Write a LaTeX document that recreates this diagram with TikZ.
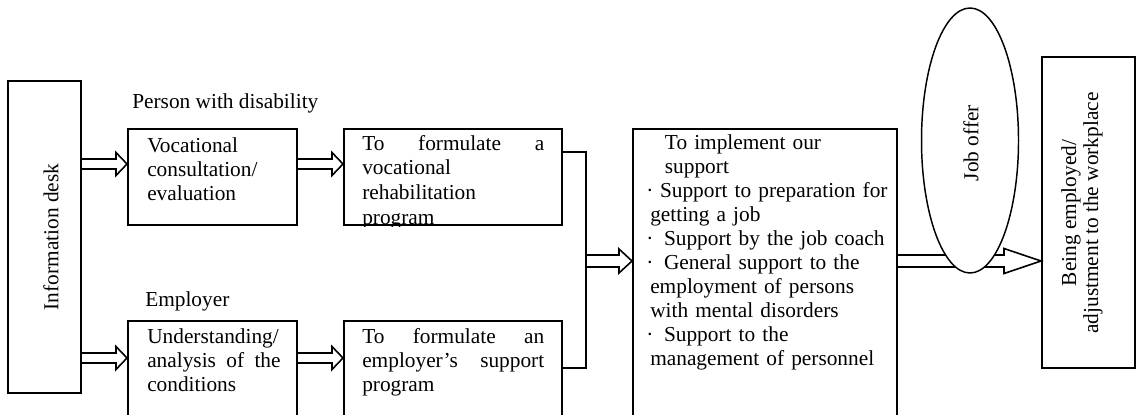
\documentclass[tikz,border=0pt]{standalone}
\usepackage{fontspec}
\setmainfont{Liberation Serif}
\usetikzlibrary{shapes.geometric,fit,calc}
\setlength{\parindent}{0pt}

% hollow arrow: start, end, shaft half width, head half width, head length
\newcommand{\hollowarrow}[5]{%
  \draw[hollow] ($(#1)+(0,-#3)$) -- ($(#2)+(-#5,-#3)$) -- ($(#2)+(-#5,-#4)$) -- (#2)
    -- ($(#2)+(-#5,#4)$) -- ($(#2)+(-#5,#3)$) -- ($(#1)+(0,#3)$);%
}

\begin{document}
\begin{tikzpicture}[x=0.75pt, y=-0.75pt,
  box/.style={draw, line width=1.5pt, inner sep=0pt},
  txt/.style={inner sep=0pt, anchor=base west, align=left, font=\fontsize{16}{18}\selectfont},
  vtxt/.style={inner sep=0pt, rotate=90, align=center, font=\fontsize{16}{16.5}\selectfont},
  hollow/.style={line width=1.2pt, line join=miter},
  joinline/.style={line width=1.2pt}]

\clip (0,0) rectangle (1137,414);

% boxes
\node[box, fit={(8,81) (81,393)}] (desk) {};
\node[box, fit={(128,129) (297,225)}] (voc) {};
\node[box, fit={(344,129) (562,225)}] (rehab) {};
\node[box, fit={(128,321) (297,430)}] (cond) {};
\node[box, fit={(344,321) (562,430)}] (emp) {};
\node[box, fit={(633,129) (897,430)}] (impl) {};
\node[box, fit={(1042,57) (1135,368)}] (placed) {};

% texts
\node[vtxt] (desktxt) at (51,237) {Information desk};
\node[txt] (pwd) at (132,108) {Person with disability};
\node[txt] (empr) at (145,306) {Employer};
\node[txt, text width=100pt] (voctxt) at (147,152) {Vocational\\consultation/\\evaluation};
\begin{scope}
  \clip (rehab.north west) rectangle (rehab.south east);
  \node[txt, text width=136.5pt, font=\fontsize{16}{18.5}\selectfont] (rehabtxt) at (362,150)
    {To\hfill formulate\hfill a\\vocational\\rehabilitation\\program};
\end{scope}
\node[txt, text width=100pt] (condtxt) at (147,343)
  {Understanding/\\analysis\hfill of\hfill the\\conditions};
\node[txt, text width=136.5pt] (emptxt) at (362,343)
  {To\hfill formulate\hfill an\\employer’s\hfill support\\program};
\node[txt, text width=190pt] (impltxt) at (646,149) {%
  \hspace*{14pt}To implement our\\
  \hspace*{14pt}support\\
  ·\hspace{5pt}Support to preparation for\\
  \hspace*{3pt}getting a job\\
  ·\hspace{8pt}Support by the job coach\\
  ·\hspace{8pt}General support to the\\
  \hspace*{3pt}employment of persons\\
  \hspace*{3pt}with mental disorders\\
  ·\hspace{8pt}Support to the\\
  \hspace*{3pt}management of personnel};
\node[vtxt] (placedtxt) at (1082,213) {Being employed/\\adjustment to the workplace};

% arrows
\coordinate (a1) at ($(voc.north west)+(0,36)$);
\coordinate (a2) at ($(rehab.north west)+(0,36)$);
\coordinate (b1) at ($(cond.north west)+(0,38)$);
\coordinate (b2) at ($(emp.north west)+(0,38)$);
\hollowarrow{desk.east |- a1}{a1}{5}{11.5}{11}
\hollowarrow{voc.east |- a2}{a2}{5}{11.5}{11}
\hollowarrow{desk.east |- b1}{b1}{5}{11.5}{11}
\hollowarrow{cond.east |- b2}{b2}{5}{11.5}{11}

\coordinate (jn) at (586,261);
\draw[joinline] ($(rehab.north east)+(0,24)$) -| (jn) |- ($(emp.north east)+(0,48)$);
\hollowarrow{jn}{impl.west |- jn}{6}{12}{13}
\hollowarrow{impl.east |- jn}{placed.west |- jn}{6}{12.5}{37}

% job offer
\node[draw, fill=white, ellipse, line width=1.1pt, inner sep=0pt,
  minimum width=72.75pt, minimum height=198.75pt] (offer) at (970,140.5) {};
\node[vtxt] (offertxt) at (971,143) {Job offer};
\end{tikzpicture}
\end{document}
